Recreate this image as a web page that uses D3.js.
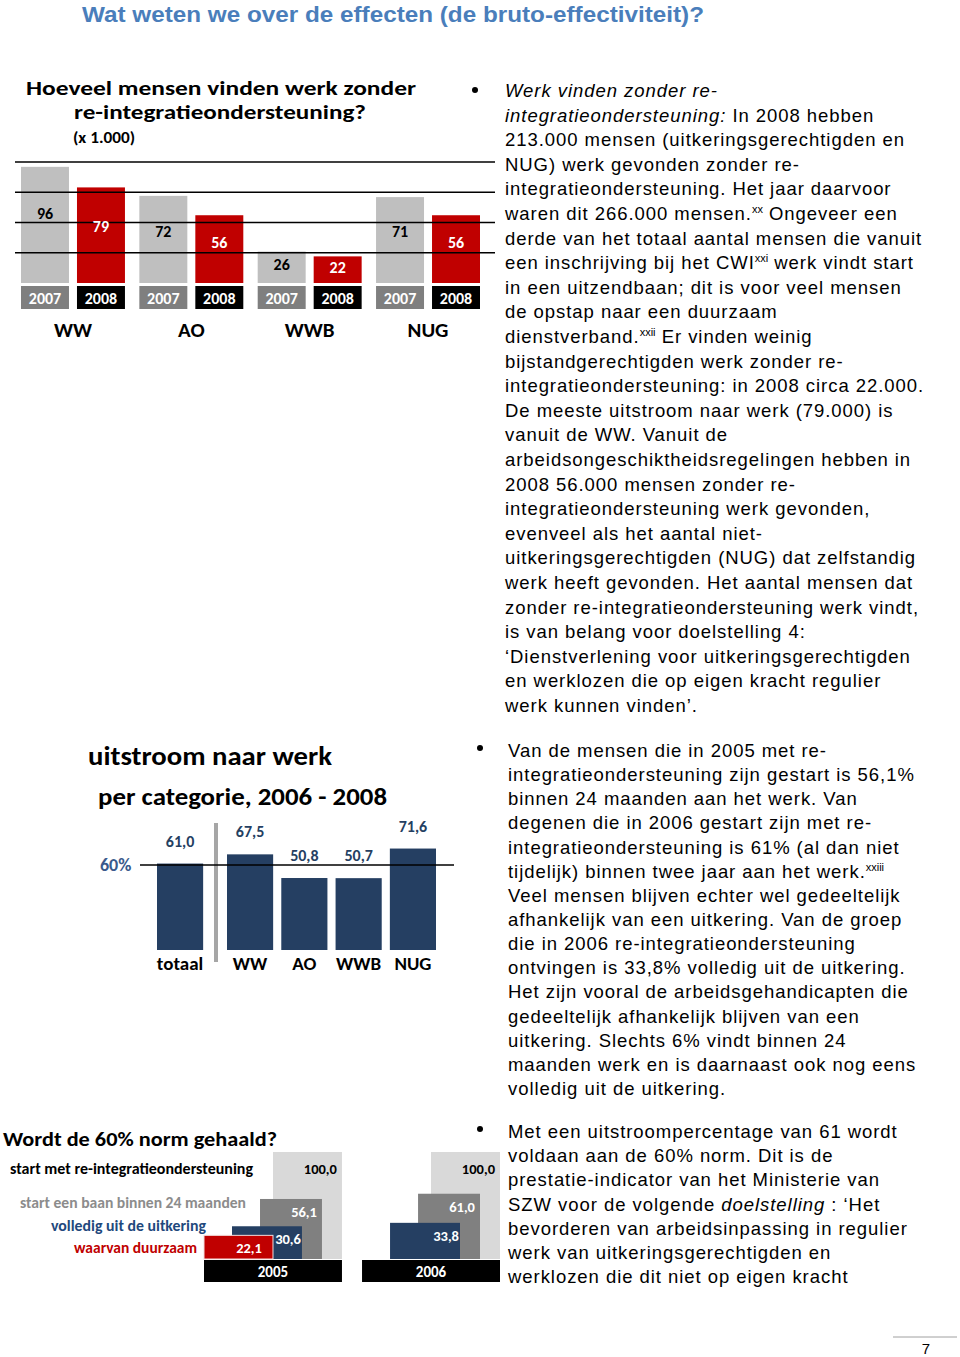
<!DOCTYPE html>
<html><head><meta charset="utf-8">
<script src="https://cdn.jsdelivr.net/npm/d3@7"></script>
<style>
html,body{margin:0;padding:0;background:#fff;}
svg{display:block;}
</style></head>
<body>
<script>
// ---------- DATA ----------
const pageTitle = "Wat weten we over de effecten (de bruto-effectiviteit)?";

// Chart 1: werk zonder re-integratieondersteuning (x 1.000)
const c1Title = ["Hoeveel mensen vinden werk zonder", "re-integratieondersteuning?"];
const c1Unit = "(x 1.000)";
const c1Groups = ["WW", "AO", "WWB", "NUG"];
const c1Years = ["2007", "2008"];
const c1Values2007 = [96, 72, 26, 71];
const c1Values2008 = [79, 56, 22, 56];
const c1GridTicks = [25, 50, 75, 100];

// Chart 2: uitstroom naar werk per categorie
const c2Title = ["uitstroom naar werk", "per categorie, 2006 - 2008"];
const c2Categories = ["totaal", "WW", "AO", "WWB", "NUG"];
const c2Values = [61.0, 67.5, 50.8, 50.7, 71.6];
const c2Norm = 60;
const c2NormLabel = "60%";

// Chart 3: Wordt de 60% norm gehaald?
const c3Title = "Wordt de 60% norm gehaald?";
const c3Years = ["2005", "2006"];
const c3Series = ["start met re-integratieondersteuning", "start een baan binnen 24 maanden", "volledig uit de uitkering", "waarvan duurzaam"];
const c3Values2005 = [100.0, 56.1, 30.6, 22.1];
const c3Values2006 = [100.0, 61.0, 33.8, null];

// Body text
const para1 = [
  [{t:"Werk vinden zonder re-", i:1}],
  [{t:"integratieondersteuning:", i:1}, {t:" In 2008 hebben"}],
  [{t:"213.000 mensen (uitkeringsgerechtigden en"}],
  [{t:"NUG) werk gevonden zonder re-"}],
  [{t:"integratieondersteuning. Het jaar daarvoor"}],
  [{t:"waren dit 266.000 mensen."}, {t:"xx", s:1}, {t:" Ongeveer een"}],
  [{t:"derde van het totaal aantal mensen die vanuit"}],
  [{t:"een inschrijving bij het CWI"}, {t:"xxi", s:1}, {t:" werk vindt start"}],
  [{t:"in een uitzendbaan; dit is voor veel mensen"}],
  [{t:"de opstap naar een duurzaam"}],
  [{t:"dienstverband."}, {t:"xxii", s:1}, {t:" Er vinden weinig"}],
  [{t:"bijstandgerechtigden werk zonder re-"}],
  [{t:"integratieondersteuning: in 2008 circa 22.000."}],
  [{t:"De meeste uitstroom naar werk (79.000) is"}],
  [{t:"vanuit de WW. Vanuit de"}],
  [{t:"arbeidsongeschiktheidsregelingen hebben in"}],
  [{t:"2008 56.000 mensen zonder re-"}],
  [{t:"integratieondersteuning werk gevonden,"}],
  [{t:"evenveel als het aantal niet-"}],
  [{t:"uitkeringsgerechtigden (NUG) dat zelfstandig"}],
  [{t:"werk heeft gevonden. Het aantal mensen dat"}],
  [{t:"zonder re-integratieondersteuning werk vindt,"}],
  [{t:"is van belang voor doelstelling 4:"}],
  [{t:"\u2018Dienstverlening voor uitkeringsgerechtigden"}],
  [{t:"en werklozen die op eigen kracht regulier"}],
  [{t:"werk kunnen vinden\u2019."}]
];
const para2 = [
  [{t:"Van de mensen die in 2005 met re-"}],
  [{t:"integratieondersteuning zijn gestart is 56,1%"}],
  [{t:"binnen 24 maanden aan het werk. Van"}],
  [{t:"degenen die in 2006 gestart zijn met re-"}],
  [{t:"integratieondersteuning is 61% (al dan niet"}],
  [{t:"tijdelijk) binnen twee jaar aan het werk."}, {t:"xxiii", s:1}],
  [{t:"Veel mensen blijven echter wel gedeeltelijk"}],
  [{t:"afhankelijk van een uitkering. Van de groep"}],
  [{t:"die in 2006 re-integratieondersteuning"}],
  [{t:"ontvingen is 33,8% volledig uit de uitkering."}],
  [{t:"Het zijn vooral de arbeidsgehandicapten die"}],
  [{t:"gedeeltelijk afhankelijk blijven van een"}],
  [{t:"uitkering. Slechts 6% vindt binnen 24"}],
  [{t:"maanden werk en is daarnaast ook nog eens"}],
  [{t:"volledig uit de uitkering."}]
];
const para3 = [
  [{t:"Met een uitstroompercentage van 61 wordt"}],
  [{t:"voldaan aan de 60% norm. Dit is de"}],
  [{t:"prestatie-indicator van het Ministerie van"}],
  [{t:"SZW voor de volgende "}, {t:"doelstelling", i:1}, {t:" : \u2018Het"}],
  [{t:"bevorderen van arbeidsinpassing in regulier"}],
  [{t:"werk van uitkeringsgerechtigden en"}],
  [{t:"werklozen die dit niet op eigen kracht"}]
];
const pageNumber = "7";

// ---------- DRAW ----------
const W = 960, H = 1357;
const svg = d3.select("body").append("svg").attr("width", W).attr("height", H);
const CAL = "Carlito, Lato, 'Open Sans', sans-serif";
const ARIAL = "'Liberation Sans', Arial, Helvetica, sans-serif";

function fitText(sel, len) { sel.attr("textLength", len).attr("lengthAdjust", "spacingAndGlyphs"); return sel; }

// page header
fitText(svg.append("text").attr("x", 82).attr("y", 21.5)
  .style("font-family", "'Liberation Sans Narrow', 'Arial Narrow', " + ARIAL)
  .style("font-weight", "bold").style("font-size", "22px").style("fill", "#4a7ebb")
  .text(pageTitle), 622);

// ===== Chart 1 =====
const g1 = svg.append("g");
fitText(g1.append("text").attr("x", 26).attr("y", 95).style("font-family", CAL).style("font-weight", "bold").style("font-size", "21px").text(c1Title[0]), 390);
fitText(g1.append("text").attr("x", 74).attr("y", 119).style("font-family", CAL).style("font-weight", "bold").style("font-size", "21px").text(c1Title[1]), 292);
fitText(g1.append("text").attr("x", 73).attr("y", 143).style("font-family", CAL).style("font-weight", "bold").style("font-size", "15px").text(c1Unit), 62);

const y1 = d3.scaleLinear().domain([0, 100]).range([283, 162]);
const x1 = d3.scaleBand().domain(c1Groups).range([21, 480]).paddingInner(0.1216).paddingOuter(0);
const x1y = d3.scaleBand().domain(c1Years).range([0, x1.bandwidth()]).paddingInner(0.143).paddingOuter(0);
const c1Data = [];
c1Groups.forEach((g, i) => {
  c1Data.push({g, year: c1Years[0], v: c1Values2007[i]});
  c1Data.push({g, year: c1Years[1], v: c1Values2008[i]});
});
const barFill1 = {"2007": "#bfbfbf", "2008": "#c00000"};
const boxFill1 = {"2007": "#7f7f7f", "2008": "#000000"};
const labFill1 = {"2007": "#000000", "2008": "#ffffff"};

g1.selectAll("rect.bar").data(c1Data).join("rect").attr("class", "bar")
  .attr("x", d => x1(d.g) + x1y(d.year)).attr("width", x1y.bandwidth())
  .attr("y", d => y1(d.v)).attr("height", d => y1(0) - y1(d.v))
  .attr("fill", d => barFill1[d.year]);

// gridlines over bars
g1.selectAll("line.grid").data(c1GridTicks).join("line").attr("class", "grid")
  .attr("x1", 15).attr("x2", 495).attr("y1", d => y1(d)).attr("y2", d => y1(d))
  .attr("stroke", "#000").attr("stroke-width", 1.5);

g1.selectAll("text.val").data(c1Data).join("text").attr("class", "val")
  .attr("x", d => x1(d.g) + x1y(d.year) + x1y.bandwidth() / 2)
  .attr("y", d => y1(d.v * 0.6) + 6)
  .attr("text-anchor", "middle").style("font-family", CAL).style("font-weight", "bold").style("font-size", "16px")
  .style("fill", d => labFill1[d.year]).text(d => d.v);

// year boxes
g1.selectAll("rect.box").data(c1Data).join("rect").attr("class", "box")
  .attr("x", d => x1(d.g) + x1y(d.year)).attr("width", x1y.bandwidth())
  .attr("y", 286).attr("height", 23).attr("fill", d => boxFill1[d.year]);
g1.selectAll("text.yr").data(c1Data).join("text").attr("class", "yr")
  .attr("x", d => x1(d.g) + x1y(d.year) + x1y.bandwidth() / 2).attr("y", 304)
  .attr("text-anchor", "middle").style("font-family", CAL).style("font-weight", "bold").style("font-size", "16px")
  .style("fill", "#fff").text(d => d.year);
g1.selectAll("text.cat").data(c1Groups).join("text").attr("class", "cat")
  .attr("x", d => x1(d) + x1.bandwidth() / 2).attr("y", 337)
  .attr("text-anchor", "middle").style("font-family", CAL).style("font-weight", "bold").style("font-size", "21px")
  .text(d => d);

// ===== Chart 2 =====
const g2 = svg.append("g");
fitText(g2.append("text").attr("x", 88).attr("y", 765).style("font-family", CAL).style("font-weight", "bold").style("font-size", "26px").text(c2Title[0]), 244);
fitText(g2.append("text").attr("x", 98).attr("y", 805).style("font-family", CAL).style("font-weight", "bold").style("font-size", "25px").text(c2Title[1]), 289);

const y2 = d3.scaleLinear().domain([0, 100]).range([950, 808.3]);
const x2 = d3.scaleBand().domain(c2Categories.slice(1)).range([227, 436]).paddingInner(0.15).paddingOuter(0);
const totalGap = 70;
const x2pos = c => c === c2Categories[0] ? x2(c2Categories[1]) - totalGap : x2(c);
const c2Data = c2Categories.map((c, i) => ({c, v: c2Values[i]}));

g2.selectAll("rect.bar").data(c2Data).join("rect").attr("class", "bar")
  .attr("x", d => x2pos(d.c)).attr("width", x2.bandwidth())
  .attr("y", d => y2(d.v)).attr("height", d => y2(0) - y2(d.v)).attr("fill", "#253f62");
// separator
g2.append("line").attr("x1", 216).attr("x2", 216).attr("y1", 823).attr("y2", 962)
  .attr("stroke", "#a6a6a6").attr("stroke-width", 4);
// norm line
g2.append("line").attr("x1", 140).attr("x2", 454).attr("y1", y2(c2Norm)).attr("y2", y2(c2Norm))
  .attr("stroke", "#000").attr("stroke-width", 1.5);
g2.append("text").attr("x", 100).attr("y", y2(c2Norm) + 6).style("font-family", CAL).style("font-size", "18px")
  .style("font-weight", "bold").style("fill", "#3a5a8c").text(c2NormLabel);
const fmt1 = v => d3.format(".1f")(v).replace(".", ",");
g2.selectAll("text.val").data(c2Data).join("text").attr("class", "val")
  .attr("x", d => x2pos(d.c) + x2.bandwidth() / 2).attr("y", d => y2(d.v) - 17)
  .attr("text-anchor", "middle").style("font-family", CAL).style("font-weight", "bold").style("font-size", "16px")
  .style("fill", "#253f62").text(d => fmt1(d.v));
g2.selectAll("text.cat").data(c2Data).join("text").attr("class", "cat")
  .attr("x", d => x2pos(d.c) + x2.bandwidth() / 2).attr("y", 970)
  .attr("text-anchor", "middle").style("font-family", CAL).style("font-weight", "bold").style("font-size", "19px")
  .text(d => d.c);

// ===== Chart 3 =====
const g3 = svg.append("g");
fitText(g3.append("text").attr("x", 3).attr("y", 1146).style("font-family", CAL).style("font-weight", "bold").style("font-size", "21px").text(c3Title), 274);
const legendStyle = [
  {x: 10, y: 1174, w: 243, c: "#000000"},
  {x: 20, y: 1208, w: 226, c: "#8c8c8c"},
  {x: 51, y: 1231, w: 155, c: "#1f497d"},
  {x: 74, y: 1253, w: 123, c: "#c00000"}
];
c3Series.forEach((s, i) => {
  fitText(g3.append("text").attr("x", legendStyle[i].x).attr("y", legendStyle[i].y)
    .style("font-family", CAL).style("font-weight", "bold").style("font-size", "15px")
    .style("fill", legendStyle[i].c).text(s), legendStyle[i].w);
});

const y3 = d3.scaleLinear().domain([0, 100]).range([1259, 1152]);
const x3 = d3.scaleBand().domain(c3Years).range([204, 500]).paddingInner(0.127).paddingOuter(0);
const seriesSpan = [[0.5, 1.0], [0.406, 0.855], [0.203, 0.71], [0, 0.5]]; // relative horizontal extent of each series
const seriesFill = ["#d9d9d9", "#808080", "#253f62", "#c00000"];
const seriesLab = ["#000000", "#ffffff", "#ffffff", "#ffffff"];
const c3Data = [];
c3Years.forEach((yr, yi) => {
  const vals = yi === 0 ? c3Values2005 : c3Values2006;
  vals.forEach((v, si) => { if (v !== null) c3Data.push({yr, si, v}); });
});
const bx = d => x3(d.yr) + seriesSpan[d.si][0] * x3.bandwidth();
const bw = d => (seriesSpan[d.si][1] - seriesSpan[d.si][0]) * x3.bandwidth();
g3.selectAll("rect.bar").data(c3Data).join("rect").attr("class", "bar")
  .attr("x", bx).attr("width", bw)
  .attr("y", d => y3(d.v)).attr("height", d => y3(0) - y3(d.v))
  .attr("fill", d => seriesFill[d.si])
  .attr("stroke", d => d.si === 3 ? "#f2dcdb" : "none").attr("stroke-width", 1);
g3.selectAll("text.val").data(c3Data).join("text").attr("class", "val")
  .attr("x", d => bx(d) + bw(d) - (d.si === 3 ? 11 : d.si === 2 ? 1 : 5))
  .attr("y", d => y3(d.v) + (d.si === 0 ? 22 : 18))
  .attr("text-anchor", "end").style("font-family", CAL).style("font-weight", "bold").style("font-size", "14.5px")
  .style("fill", d => seriesLab[d.si]).text(d => fmt1(d.v));
g3.selectAll("rect.yr").data(c3Years).join("rect").attr("class", "yr")
  .attr("x", d => x3(d)).attr("width", x3.bandwidth()).attr("y", 1260).attr("height", 22).attr("fill", "#000");
g3.selectAll("text.yr").data(c3Years).join("text").attr("class", "yr")
  .attr("x", d => x3(d) + x3.bandwidth() / 2).attr("y", 1277)
  .attr("text-anchor", "middle").style("font-family", CAL).style("font-weight", "bold").style("font-size", "15px")
  .style("fill", "#fff").text(d => d);

// ===== Body text =====
function drawPara(lines, x, y0, lh, bx, by) {
  const g = svg.append("g");
  g.append("circle").attr("cx", bx).attr("cy", by).attr("r", 3).attr("fill", "#000");
  lines.forEach((segs, li) => {
    const t = g.append("text").attr("x", x).attr("y", y0 + li * lh)
      .style("font-family", ARIAL).style("font-size", "18.5px").style("letter-spacing", "0.95px").style("fill", "#000");
    let sup = false;
    segs.forEach(s => {
      const ts = t.append("tspan").text(s.t);
      if (s.i) ts.style("font-style", "italic");
      if (s.s) { ts.attr("dy", -7).style("font-size", "11px").style("letter-spacing", "0px"); sup = true; }
      else if (sup) { ts.attr("dy", 7); sup = false; }
    });
  });
}
drawPara(para1, 505, 97, 24.6, 475, 90);
drawPara(para2, 508, 757, 24.14, 480, 748);
drawPara(para3, 508, 1138, 24.17, 480, 1129);

// page number
svg.append("line").attr("x1", 893).attr("x2", 957).attr("y1", 1337).attr("y2", 1337).attr("stroke", "#a0a0a0").attr("stroke-width", 1);
svg.append("text").attr("x", 926).attr("y", 1354).attr("text-anchor", "middle")
  .style("font-family", ARIAL).style("font-size", "15px").text(pageNumber);
</script>
</body></html>
